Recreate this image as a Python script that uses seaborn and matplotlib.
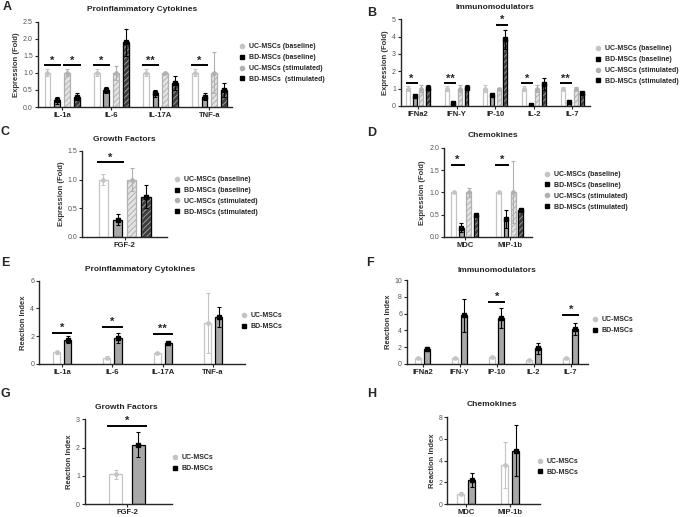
import matplotlib
matplotlib.use("Agg")
import matplotlib.pyplot as plt
from matplotlib.lines import Line2D
from matplotlib.patches import Rectangle
import seaborn as sns
import pandas as pd

sns.set_style("ticks")
plt.rcParams["font.family"] = ["Liberation Sans", "DejaVu Sans"]
plt.rcParams["hatch.linewidth"] = 0.7

GROUPS4 = ["UC-MSCs (baseline)", "BD-MSCs (baseline)", "UC-MSCs (stimulated)", "BD-MSCs (stimulated)"]
GROUPS2 = ["UC-MSCs", "BD-MSCs"]

# A - proinflammatory cytokines, fold expression
a_cats = ["IL-1a", "IL-6", "IL-17A", "TNF-a"]
a_uc_base = [1.0, 1.0, 1.0, 1.0]
a_uc_base_err = [0.1, 0.1, 0.1, 0.1]
a_bd_base = [0.2, 0.5, 0.4, 0.3]
a_bd_base_err = [0.1, 0.1, 0.1, 0.1]
a_uc_stim = [1.0, 1.0, 1.0, 1.0]
a_uc_stim_err = [0.1, 0.2, 0.02, 0.6]
a_bd_stim = [0.3, 1.9, 0.7, 0.5]
a_bd_stim_err = [0.1, 0.4, 0.2, 0.2]
a_sig = [(0, 0, 1, 1.22, "*"), (0, 2, 3, 1.22, "*"), (1, 0, 1, 1.22, "*"),
         (2, 0, 1, 1.22, "**"), (3, 0, 1, 1.22, "*")]

# B - immunomodulators, fold expression
b_cats = ["IFNa2", "IFN-Y", "IP-10", "IL-2", "IL-7"]
b_uc_base = [1.0, 1.0, 1.0, 1.0, 1.0]
b_uc_base_err = [0.15, 0.15, 0.2, 0.15, 0.1]
b_bd_base = [0.55, 0.2, 0.62, 0.08, 0.22]
b_bd_base_err = [0.05, 0.05, 0.05, 0.03, 0.05]
b_uc_stim = [1.0, 1.0, 1.0, 1.0, 1.0]
b_uc_stim_err = [0.2, 0.2, 0.03, 0.2, 0.08]
b_bd_stim = [1.05, 1.05, 3.85, 1.25, 0.75]
b_bd_stim_err = [0.15, 0.15, 0.55, 0.35, 0.05]
b_sig = [(0, 0, 1, 1.3, "*"), (1, 0, 1, 1.3, "**"), (2, 2, 3, 4.65, "*"),
         (3, 0, 1, 1.3, "*"), (4, 0, 1, 1.3, "**")]

# C - growth factors, fold expression
c_cats = ["FGF-2"]
c_uc_base = [1.0]
c_uc_base_err = [0.1]
c_bd_base = [0.3]
c_bd_base_err = [0.1]
c_uc_stim = [1.0]
c_uc_stim_err = [0.2]
c_bd_stim = [0.7]
c_bd_stim_err = [0.2]
c_sig = [(0, 0, 1, 1.3, "*")]

# D - chemokines, fold expression
d_cats = ["MDC", "MIP-1b"]
d_uc_base = [1.0, 1.0]
d_uc_base_err = [0.0, 0.0]
d_bd_base = [0.2, 0.4]
d_bd_base_err = [0.1, 0.2]
d_uc_stim = [1.0, 1.0]
d_uc_stim_err = [0.1, 0.7]
d_bd_stim = [0.5, 0.6]
d_bd_stim_err = [0.02, 0.02]
d_sig = [(0, 0, 1, 1.62, "*"), (1, 0, 1, 1.62, "*")]

# E - proinflammatory cytokines, reaction index
e_cats = ["IL-1a", "IL-6", "IL-17A", "TNF-a"]
e_uc = [0.85, 0.45, 0.8, 2.95]
e_uc_err = [0.1, 0.12, 0.07, 2.15]
e_bd = [1.75, 1.88, 1.5, 3.4]
e_bd_err = [0.25, 0.35, 0.08, 0.7]
e_sig = [(0, 0, 1, 2.23, "*"), (1, 0, 1, 2.7, "*"), (2, 0, 1, 2.16, "**")]

# F - immunomodulators, reaction index
f_cats = ["IFNa2", "IFN-Y", "IP-10", "IL-2", "IL-7"]
f_uc = [0.7, 0.75, 0.8, 0.5, 0.75]
f_uc_err = [0.12, 0.12, 0.12, 0.12, 0.1]
f_bd = [1.8, 5.8, 5.5, 1.85, 4.2]
f_bd_err = [0.2, 1.95, 1.15, 0.65, 0.75]
f_sig = [(2, 0, 1, 7.4, "*"), (4, 0, 1, 5.85, "*")]

# G - growth factors, reaction index
g_cats = ["FGF-2"]
g_uc = [1.05]
g_uc_err = [0.15]
g_bd = [2.1]
g_bd_err = [0.45]
g_sig = [(0, 0, 1, 2.78, "*")]

# H - chemokines, reaction index
h_cats = ["MDC", "MIP-1b"]
h_uc = [0.95, 3.6]
h_uc_err = [0.12, 2.15]
h_bd = [2.25, 4.9]
h_bd_err = [0.65, 2.35]

STYLES = {
    "UC-MSCs (baseline)": dict(face="white", edge="#c4c4c4", hatch=None, dot="#c4c4c4", marker="o"),
    "BD-MSCs (baseline)": dict(face="#a8a8a8", edge="black", hatch=None, dot="black", marker="s"),
    "UC-MSCs (stimulated)": dict(face="#e4e4e4", edge="#b0b0b0", hatch="//////", dot="#b0b0b0", marker="o"),
    "BD-MSCs (stimulated)": dict(face="#3c3c3c", edge="#9a9a9a", hatch="//////", dot="black", marker="s",
                                 outline="black"),
    "UC-MSCs": dict(face="white", edge="#c4c4c4", hatch=None, dot="#c4c4c4", marker="o"),
    "BD-MSCs": dict(face="#a8a8a8", edge="black", hatch=None, dot="black", marker="s"),
}


def draw_panel(ax, cats, groups, means, errs, width, gap, ylim, yticks, ylabel, xlim, sigs, fmt="{:.1f}"):
    df = pd.DataFrame({
        "cat": [c for g in groups for c in cats],
        "group": [g for g in groups for c in cats],
        "value": [v for m in means for v in m],
    })
    sns.barplot(data=df, x="cat", y="value", hue="group", order=cats, hue_order=groups,
                palette={g: STYLES[g]["face"] for g in groups}, saturation=1,
                errorbar=None, width=width, gap=gap, legend=False, ax=ax)
    for cont, g, m, err in zip(ax.containers, groups, means, errs):
        st = STYLES[g]
        for patch, v, e in zip(cont, m, err):
            patch.set_edgecolor(st["edge"])
            patch.set_linewidth(0.9)
            if st["hatch"]:
                patch.set_hatch(st["hatch"])
            if "outline" in st:
                ax.add_patch(Rectangle((patch.get_x(), 0), patch.get_width(), patch.get_height(),
                                       fill=False, ec=st["outline"], lw=0.9, zorder=patch.get_zorder() + 0.1))
            xc = patch.get_x() + patch.get_width() / 2
            ax.errorbar(xc, v, yerr=e, color=st["edge"] if "outline" not in st else st["outline"],
                        capsize=1.6, elinewidth=0.8, capthick=0.8, zorder=3)
            ax.plot(xc, v, marker=st["marker"], ms=2.4, color=st["dot"], ls="none", zorder=4)
    for ci, h1, h2, y, txt in sigs:
        p1 = ax.containers[h1][ci]
        p2 = ax.containers[h2][ci]
        ax.plot([p1.get_x() - 0.02, p2.get_x() + p2.get_width() + 0.02], [y, y], color="black", lw=1.4,
                solid_capstyle="butt", clip_on=False)
        ax.text((p1.get_x() + p2.get_x() + p2.get_width()) / 2, y, txt, ha="center", va="bottom",
                fontsize=8, fontweight="bold")
    ax.set_xlim(*xlim)
    ax.set_ylim(*ylim)
    ax.set_yticks(yticks)
    ax.set_yticklabels([fmt.format(t) for t in yticks], color="#555555", fontsize=5)
    ax.set_xlabel("")
    ax.set_ylabel(ylabel, fontsize=5.5, fontweight="bold", color="#333333", labelpad=2)
    for lab in ax.get_xticklabels():
        lab.set_fontweight("bold")
        lab.set_fontsize(5.5)
    ax.tick_params(axis="both", length=2, width=0.8, pad=1.5)
    sns.despine(ax=ax)
    for s in ["left", "bottom"]:
        ax.spines[s].set_linewidth(1.0)


def add_legend(fig, groups, labels, x, y):
    handles = [Line2D([], [], marker=STYLES[g]["marker"], color=STYLES[g]["dot"], ls="none", ms=3)
               for g in groups]
    fig.legend(handles, labels, loc="center left", bbox_to_anchor=(x, y), frameon=False,
               prop={"size": 5, "weight": "bold"}, handlelength=0.8, handletextpad=0.6,
               labelspacing=0.55, borderpad=0, borderaxespad=0)


fig = plt.figure(figsize=(6.85, 5.17), dpi=100)

ax_a = fig.add_axes([0.055, 0.793, 0.283, 0.165])
draw_panel(ax_a, a_cats, GROUPS4, [a_uc_base, a_bd_base, a_uc_stim, a_bd_stim],
           [a_uc_base_err, a_bd_base_err, a_uc_stim_err, a_bd_stim_err], 0.8, 0.4,
           (0, 2.5), [0, 0.5, 1.0, 1.5, 2.0, 2.5], "Expression (Fold)", (-0.5, 3.45), a_sig)

ax_b = fig.add_axes([0.585, 0.795, 0.276, 0.168])
draw_panel(ax_b, b_cats, GROUPS4, [b_uc_base, b_bd_base, b_uc_stim, b_bd_stim],
           [b_uc_base_err, b_bd_base_err, b_uc_stim_err, b_bd_stim_err], 0.68, 0.4,
           (0, 5), [0, 1, 2, 3, 4, 5], "Expression (Fold)", (-0.45, 4.45), b_sig, fmt="{:.0f}")

ax_c = fig.add_axes([0.120, 0.542, 0.124, 0.166])
draw_panel(ax_c, c_cats, GROUPS4, [c_uc_base, c_bd_base, c_uc_stim, c_bd_stim],
           [c_uc_base_err, c_bd_base_err, c_uc_stim_err, c_bd_stim_err], 0.8, 0.35,
           (0, 1.5), [0, 0.5, 1.0, 1.5], "Expression (Fold)", (-0.6, 0.6), c_sig)

ax_d = fig.add_axes([0.648, 0.542, 0.128, 0.172])
draw_panel(ax_d, d_cats, GROUPS4, [d_uc_base, d_bd_base, d_uc_stim, d_bd_stim],
           [d_uc_base_err, d_bd_base_err, d_uc_stim_err, d_bd_stim_err], 0.66, 0.35,
           (0, 2.0), [0, 0.5, 1.0, 1.5, 2.0], "Expression (Fold)", (-0.47, 1.49), d_sig)

ax_e = fig.add_axes([0.057, 0.296, 0.301, 0.161])
draw_panel(ax_e, e_cats, GROUPS2, [e_uc, e_bd], [e_uc_err, e_bd_err], 0.44, 0.36,
           (0, 6), [0, 2, 4, 6], "Reaction Index", (-0.46, 3.64), e_sig, fmt="{:.0f}")

ax_f = fig.add_axes([0.594, 0.296, 0.264, 0.162])
draw_panel(ax_f, f_cats, GROUPS2, [f_uc, f_bd], [f_uc_err, f_bd_err], 0.5, 0.36,
           (0, 10), [0, 2, 4, 6, 8, 10], "Reaction Index", (-0.43, 4.46), f_sig, fmt="{:.0f}")

ax_g = fig.add_axes([0.124, 0.025, 0.127, 0.164])
draw_panel(ax_g, g_cats, GROUPS2, [g_uc, g_bd], [g_uc_err, g_bd_err], 0.63, 0.4,
           (0, 3), [0, 1, 2, 3], "Reaction Index", (-0.58, 0.62), g_sig, fmt="{:.0f}")

ax_h = fig.add_axes([0.653, 0.025, 0.136, 0.168])
draw_panel(ax_h, h_cats, GROUPS2, [h_uc, h_bd], [h_uc_err, h_bd_err], 0.5, 0.36,
           (0, 8), [0, 2, 4, 6, 8], "Reaction Index", (-0.43, 1.68), [], fmt="{:.0f}")

legend4 = ["UC-MSCs (baseline)", "BD-MSCs (baseline)", "UC-MSCs (stimulated)", "BD-MSCs (stimulated)"]
add_legend(fig, GROUPS4, ["UC-MSCs (baseline)", "BD-MSCs (baseline)", "UC-MSCs (stimulated)",
                          "BD-MSCs  (stimulated)"], 0.349, 0.878)
add_legend(fig, GROUPS4, legend4, 0.869, 0.874)
add_legend(fig, GROUPS4, legend4, 0.254, 0.621)
add_legend(fig, GROUPS4, legend4, 0.794, 0.631)
add_legend(fig, GROUPS2, GROUPS2, 0.352, 0.379)
add_legend(fig, GROUPS2, GROUPS2, 0.864, 0.371)
add_legend(fig, GROUPS2, GROUPS2, 0.251, 0.104)
add_legend(fig, GROUPS2, GROUPS2, 0.784, 0.097)

titles = [("Proinflammatory Cytokines", 0.207, 0.981), ("Immunomodulators", 0.723, 0.985),
          ("Growth Factors", 0.182, 0.731), ("Chemokines", 0.720, 0.737),
          ("Proinflammatory Cytokines", 0.204, 0.478), ("Immunomodulators", 0.726, 0.476),
          ("Growth Factors", 0.185, 0.211), ("Chemokines", 0.718, 0.217)]
for t, x, y in titles:
    fig.text(x, y, t, ha="center", va="center", fontsize=6, fontweight="bold", color="#222222")

letters = [("A", 0.011, 0.986), ("B", 0.543, 0.975), ("C", 0.008, 0.745), ("D", 0.543, 0.743),
           ("E", 0.008, 0.491), ("F", 0.540, 0.491), ("G", 0.008, 0.238), ("H", 0.543, 0.238)]
for t, x, y in letters:
    fig.text(x, y, t, ha="center", va="center", fontsize=9, fontweight="bold")

fig.savefig("out.png", dpi=100)
